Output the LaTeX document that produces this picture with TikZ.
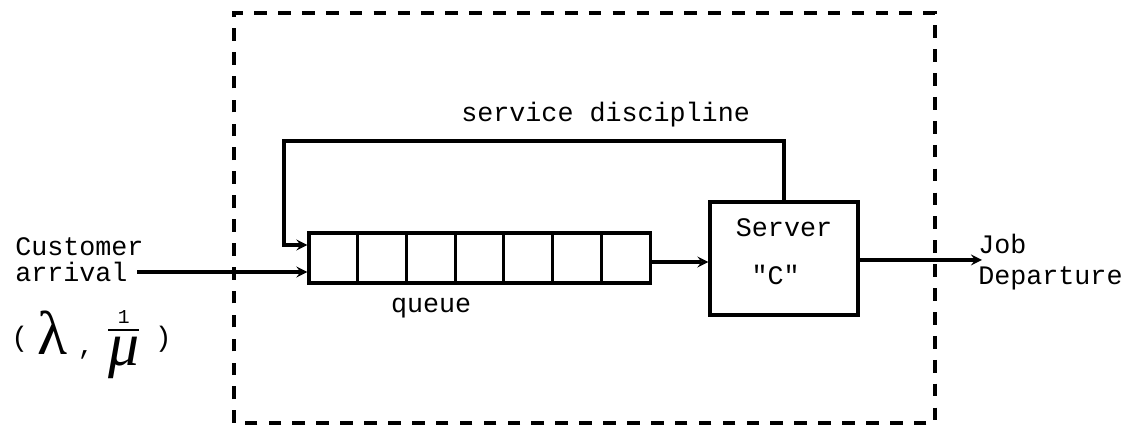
\documentclass[tikz,border=0pt]{standalone}
\usepackage{amsmath}
\usepackage{fontspec}
\setmonofont{Liberation Mono}
\newfontfamily\greekfont{Liberation Serif}
\usepackage{tikz}

\begin{document}
\begin{tikzpicture}[
  txt/.style={font=\ttfamily\fontsize{19}{19}\selectfont, inner sep=0pt},
  cell/.style={draw, line width=2.2pt, minimum width=1.218cm, minimum height=1.25cm, inner sep=0pt},
  flow/.style={->, line width=2.4pt},
  >=stealth]
\useasboundingbox (0,0) rectangle (28.175,10.75);
% system boundary
\draw [line width=2.2pt, dash pattern=on 9pt off 8pt] (5.85,0.175) rectangle (23.375,10.425);

% queue and server
\foreach \i in {1,...,7}
  \node [cell] (q\i) at ({7.725+(\i-0.5)*1.218},4.3) {};
\node [draw, line width=2.2pt, minimum width=3.7cm, minimum height=2.825cm] (S) at (19.6,4.2875) {};
\node [txt, anchor=base] (Sname) at (19.6,4.825) {Server};
\node [txt, anchor=base] (Sc) at (19.39,3.625) {"C"};

% labels
\node [txt, anchor=base west, align=left] (cust) at (0.375,3.7) {Customer\\arrival};
\node [txt, anchor=base west, align=left] (dep) at (24.45,3.625) {Job\\[3.6pt]Departure};
\node [txt, anchor=base] (disc) at (15.14,7.7) {service discipline};
\node [txt, anchor=base] (qlabel) at (10.78,2.925) {queue};
\node [anchor=base west, inner sep=0pt] (rate) at (0.275,1.875) {%
  \raisebox{6pt}{\ttfamily\fontsize{20}{20}\selectfont(}\hspace{7pt}%
  {\greekfont\fontsize{44}{44}\selectfont λ}\hspace{7pt}%
  {\ttfamily\fontsize{19}{19}\selectfont,}\hspace{9pt}%
  \raisebox{15pt}{$\genfrac{}{}{1.3pt}{0}{\mbox{\ttfamily\fontsize{14}{14}\selectfont 1}}{\mbox{\greekfont\itshape\fontsize{44}{44}\selectfont μ}}$}\hspace{10pt}%
  \raisebox{6pt}{\ttfamily\fontsize{20}{20}\selectfont)}};

% connectors
\coordinate (in) at (3.425,3.95);
\coordinate (out) at (24.55,4.25);
\coordinate (fbL) at (7.1,7.225);
\draw [flow] (in) -- (in -| q1.west);
\draw [flow] (S.north) |- (fbL) |- ([yshift=0.325cm]q1.west);
\draw [flow] ([yshift=-0.1cm]q7.east) -- ([yshift=-0.1cm]q7.east -| S.west);
\draw [flow] (S.east |- out) -- (out);
\end{tikzpicture}
\end{document}
